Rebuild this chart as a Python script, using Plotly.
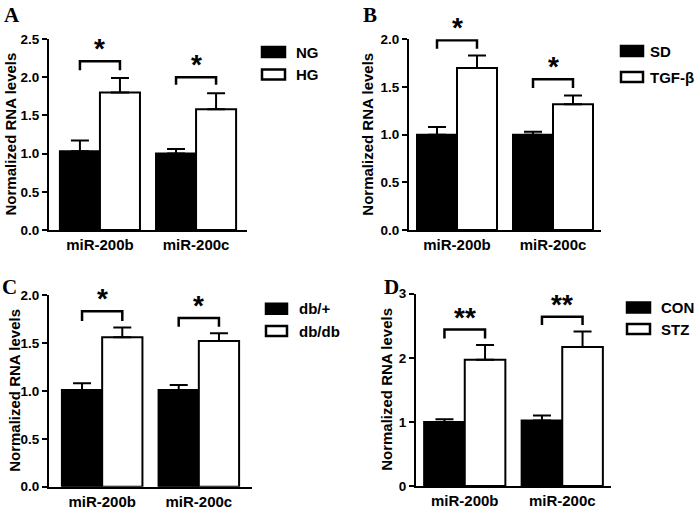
import plotly.graph_objects as go

W, H = 700, 512

categories = ["miR-200b", "miR-200c"]

# Panel A
A_groups = ["NG", "HG"]
A_ctrl = [1.03, 1.00]
A_ctrl_err = [0.14, 0.06]
A_trt = [1.80, 1.58]
A_trt_err = [0.19, 0.21]
A_brackets = [(2.21, 2.09), (2.00, 1.90)]
A_marks = ["*", "*"]
A_ticks = [0, 0.5, 1.0, 1.5, 2.0, 2.5]

# Panel B
B_groups = ["SD", "TGF-β"]
B_ctrl = [1.00, 1.00]
B_ctrl_err = [0.08, 0.03]
B_trt = [1.70, 1.32]
B_trt_err = [0.13, 0.09]
B_brackets = [(1.99, 1.90), (1.58, 1.49)]
B_marks = ["*", "*"]
B_ticks = [0, 0.5, 1.0, 1.5, 2.0]

# Panel C
C_groups = ["db/+", "db/db"]
C_ctrl = [1.01, 1.01]
C_ctrl_err = [0.07, 0.05]
C_trt = [1.56, 1.52]
C_trt_err = [0.10, 0.08]
C_brackets = [(1.83, 1.73), (1.76, 1.67)]
C_marks = ["*", "*"]
C_ticks = [0, 0.5, 1.0, 1.5, 2.0]

# Panel D
D_groups = ["CON", "STZ"]
D_ctrl = [1.00, 1.02]
D_ctrl_err = [0.04, 0.08]
D_trt = [1.97, 2.17]
D_trt_err = [0.23, 0.24]
D_brackets = [(2.44, 2.30), (2.64, 2.51)]
D_marks = ["**", "**"]
D_ticks = [0, 1, 2, 3]

panels = [
    dict(name="A", groups=A_groups, ctrl=A_ctrl, ce=A_ctrl_err, trt=A_trt, te=A_trt_err,
         br=A_brackets, marks=A_marks, ticks=A_ticks, fmt=".1f",
         px=(49, 247, 39, 230), xr=[-0.53, 1.53], yr=[0, 2.5],
         lab=(12, 15), tx=10, lbx=(262, 285), ltx=294, ly=(52, 74.5)),
    dict(name="B", groups=B_groups, ctrl=B_ctrl, ce=B_ctrl_err, trt=B_trt, te=B_trt_err,
         br=B_brackets, marks=B_marks, ticks=B_ticks, fmt=".1f",
         px=(409, 601, 39.3, 230), xr=[-0.5, 1.5], yr=[0, 2.0],
         lab=(370, 15), tx=368, lbx=(621, 643), ltx=648, ly=(51, 77)),
    dict(name="C", groups=C_groups, ctrl=C_ctrl, ce=C_ctrl_err, trt=C_trt, te=C_trt_err,
         br=C_brackets, marks=C_marks, ticks=C_ticks, fmt=".1f",
         px=(49, 252, 295, 486.7), xr=[-0.55, 1.55], yr=[0, 2.0],
         lab=(9, 287), tx=15, lbx=(266, 287), ltx=297, ly=(308.7, 331)),
    dict(name="D", groups=D_groups, ctrl=D_ctrl, ce=D_ctrl_err, trt=D_trt, te=D_trt_err,
         br=D_brackets, marks=D_marks, ticks=D_ticks, fmt="d",
         px=(416, 611, 293.7, 486), xr=[-0.5, 1.5], yr=[0, 3],
         lab=(391, 287), tx=387, lbx=(627, 650), ltx=659, ly=(307.5, 329)),
]

BARGAP = 0.167
OFF = (1 - BARGAP) / 4.0

fig = go.Figure()
shapes = []
annotations = []
FAM = "Liberation Sans, Arial, sans-serif"
font_b = dict(family=FAM, size=15, color="black", weight="bold")
font_tick = dict(family=FAM, size=13.5, color="black", weight="bold")

for i, p in enumerate(panels):
    sfx = "" if i == 0 else str(i + 1)
    xa, ya = "x" + sfx, "y" + sfx
    xl, xr_, yt, yb = p["px"]
    fig.add_trace(go.Bar(
        x=categories, y=p["ctrl"], name=p["groups"][0], xaxis=xa, yaxis=ya,
        marker=dict(color="black", line=dict(color="black", width=2)),
        error_y=dict(type="data", array=p["ce"], arrayminus=[0] * len(p["ce"]), symmetric=False,
                     color="black", thickness=2, width=9),
        showlegend=False, hoverinfo="skip"))
    fig.add_trace(go.Bar(
        x=categories, y=p["trt"], name=p["groups"][1], xaxis=xa, yaxis=ya,
        marker=dict(color="white", line=dict(color="black", width=2)),
        error_y=dict(type="data", array=p["te"], arrayminus=[0] * len(p["te"]), symmetric=False,
                     color="black", thickness=2, width=9),
        showlegend=False, hoverinfo="skip"))

    fig.layout["xaxis" + sfx] = dict(
        domain=[xl / W, xr_ / W], range=p["xr"], anchor=ya, type="category",
        showline=True, linecolor="black", linewidth=2, ticks="", showgrid=False,
        zeroline=False, tickfont=font_b, fixedrange=True, automargin=False)
    fig.layout["yaxis" + sfx] = dict(
        domain=[1 - yb / H, 1 - yt / H], range=p["yr"], anchor=xa,
        showline=True, linecolor="black", linewidth=2, ticks="outside", ticklen=5,
        tickwidth=2, tickcolor="black", tickvals=p["ticks"], tickformat=p["fmt"],
        showgrid=False, zeroline=False, tickfont=font_tick, fixedrange=True, automargin=False)

    for j, ((top, leg), mk) in enumerate(zip(p["br"], p["marks"])):
        x0, x1 = j - OFF, j + OFF
        shapes.append(dict(type="path", xref=xa, yref=ya,
                           path=f"M {x0},{leg} L {x0},{top} L {x1},{top} L {x1},{leg}",
                           line=dict(color="black", width=2.5)))
        annotations.append(dict(x=j, y=top, xref=xa, yref=ya, text=mk, showarrow=False,
                                yanchor="bottom", yshift=-5,
                                font=dict(family=FAM, size=28, color="black", weight="bold")))

    annotations.append(dict(x=p["lab"][0] / W, y=1 - p["lab"][1] / H, xref="paper", yref="paper",
                            text=p["name"], showarrow=False, xanchor="center", yanchor="middle",
                            font=dict(family="Liberation Serif, Times New Roman, serif", size=21,
                                      color="black", weight="bold")))
    annotations.append(dict(x=p["tx"] / W, y=1 - (yt + yb) / 2 / H, xref="paper", yref="paper",
                            text="Normalized RNA levels", textangle=-90, showarrow=False,
                            xanchor="center", yanchor="middle", font=font_b))
    for k, (g, fill) in enumerate(zip(p["groups"], ["black", "white"])):
        cy = p["ly"][k]
        shapes.append(dict(type="rect", xref="paper", yref="paper",
                           x0=p["lbx"][0] / W, x1=p["lbx"][1] / W,
                           y0=1 - (cy + 5) / H, y1=1 - (cy - 5) / H,
                           fillcolor=fill, line=dict(color="black", width=2.5)))
        annotations.append(dict(x=p["ltx"] / W, y=1 - cy / H, xref="paper", yref="paper",
                                text=g, showarrow=False, xanchor="left", yanchor="middle",
                                font=font_b))

fig.update_layout(
    template="none",
    width=W, height=H, margin=dict(l=0, r=0, t=0, b=0, pad=0, autoexpand=False),
    paper_bgcolor="white", plot_bgcolor="white",
    barmode="group", bargap=BARGAP, bargroupgap=0,
    showlegend=False, shapes=shapes, annotations=annotations,
)

fig.write_html("out.html", config={"displayModeBar": False},
               post_script="document.body.style.margin='0';document.body.style.overflow='hidden';")
